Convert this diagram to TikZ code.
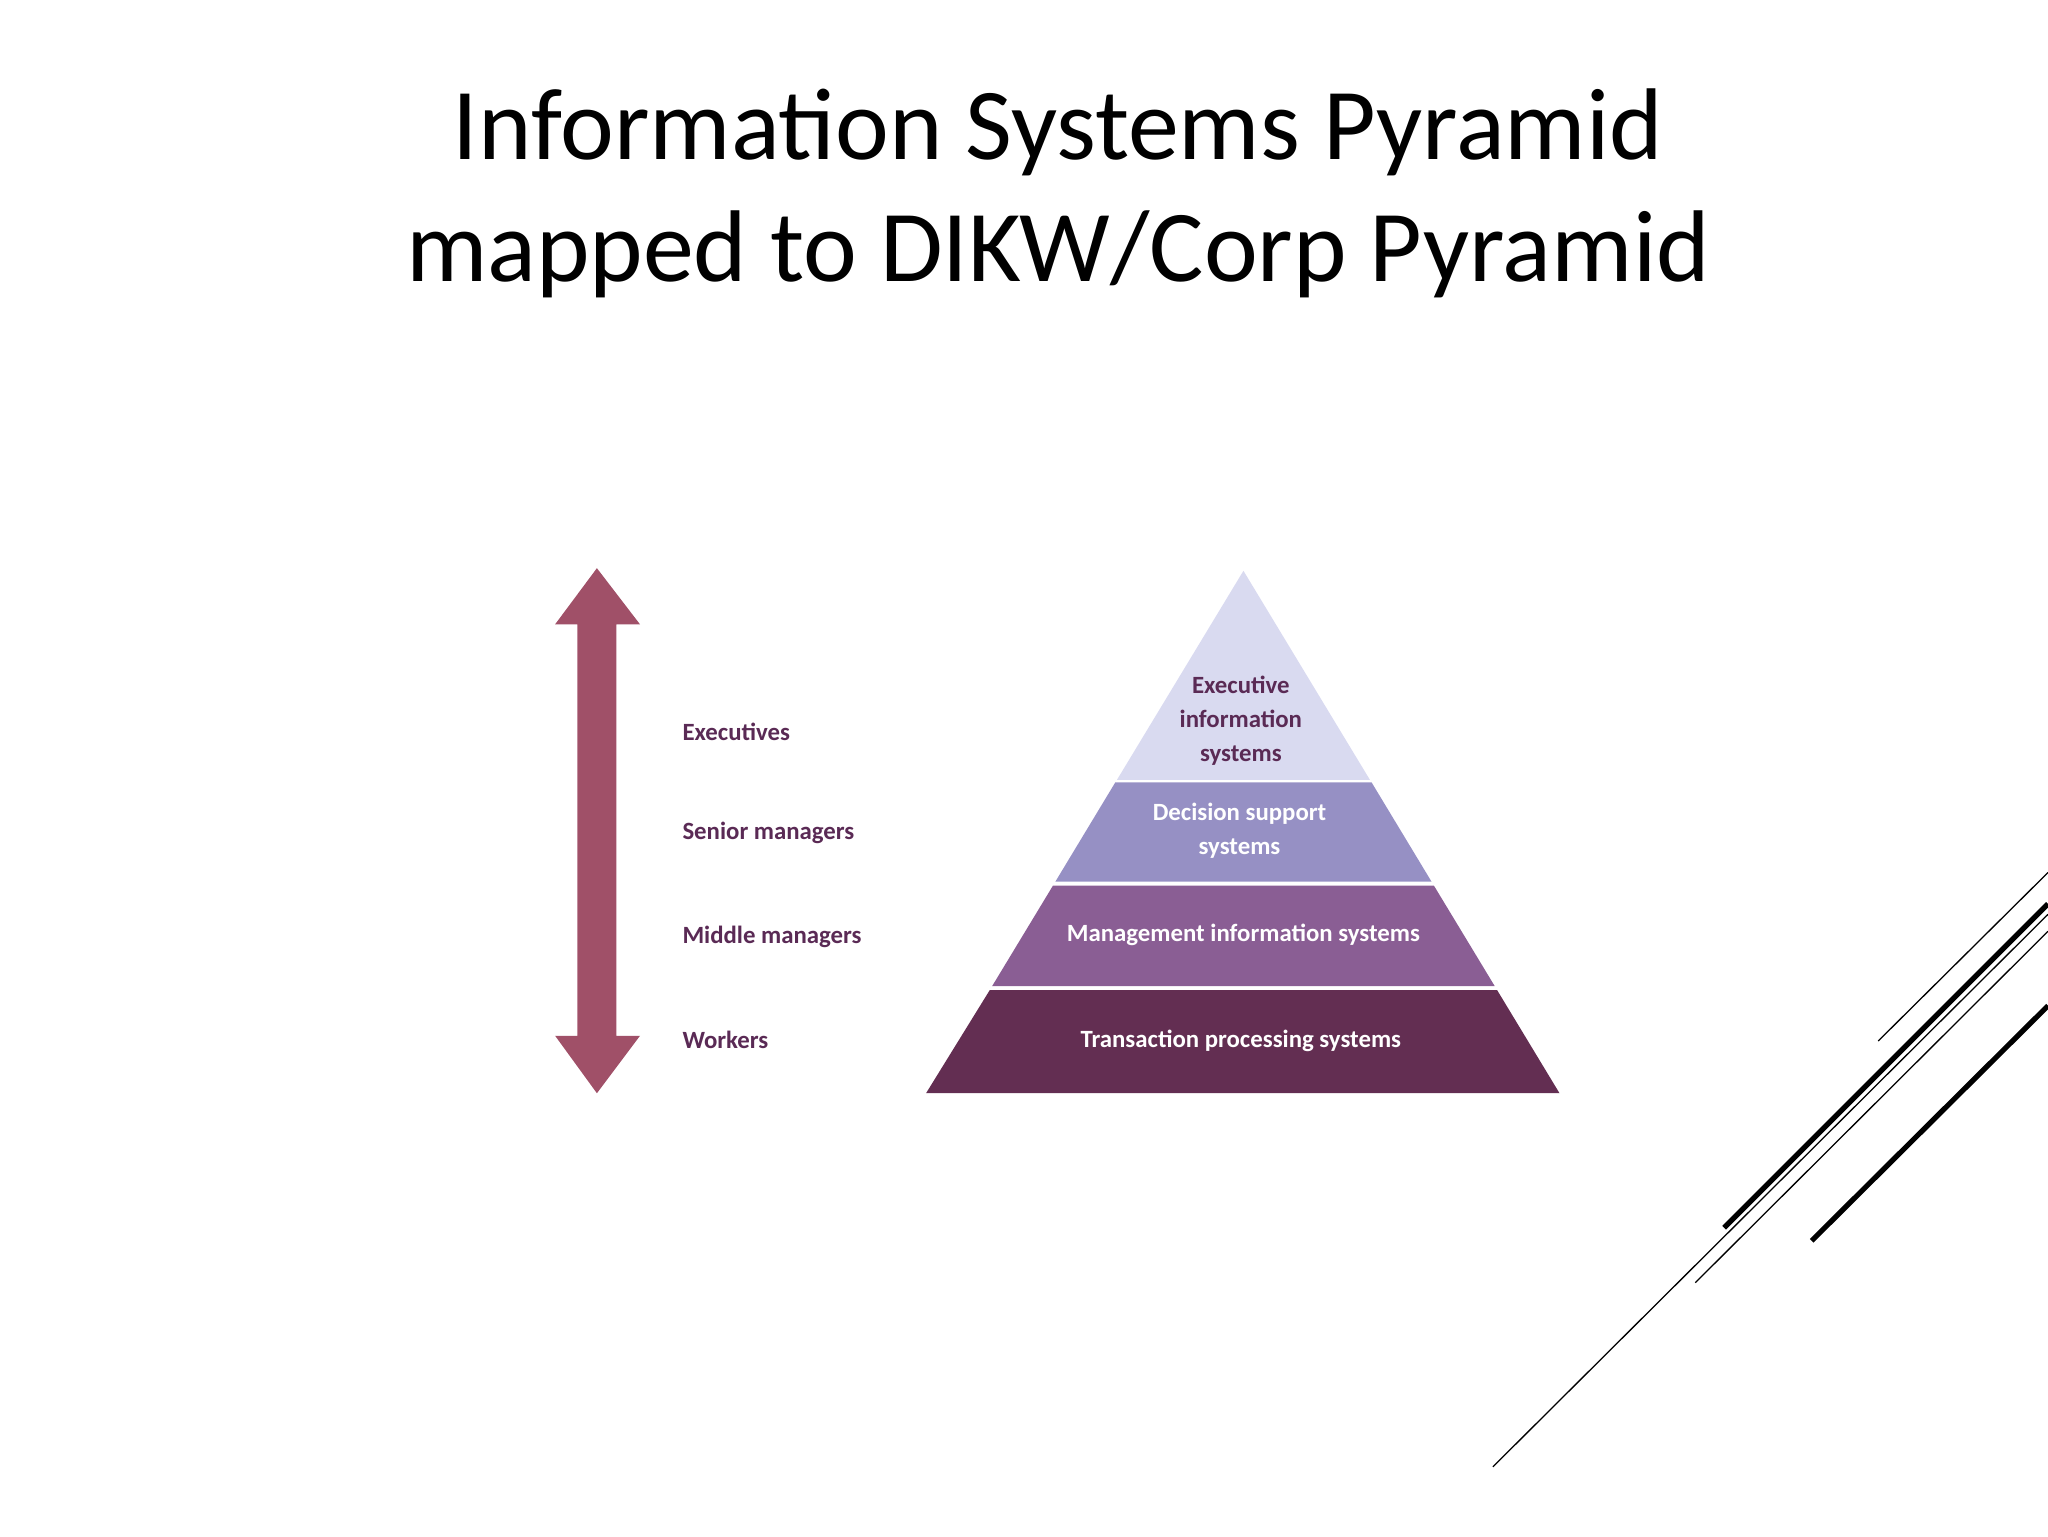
\documentclass[tikz,border=0pt]{standalone}
\usepackage{fontspec}
\setmainfont{Carlito}
\begin{document}
\begin{tikzpicture}[x=1pt,y=-1pt,
  lbl/.style={font=\fontsize{19}{22}\selectfont\bfseries,text=labc,anchor=west},
  tier/.style={font=\fontsize{19}{26}\selectfont\bfseries,text=white,align=center}]
\definecolor{labc}{HTML}{5A2A55}
\definecolor{arr}{HTML}{A05068}
\definecolor{t1}{HTML}{D9DAF0}
\definecolor{t2}{HTML}{9690C4}
\definecolor{t3}{HTML}{8A5E94}
\definecolor{t4}{HTML}{632E52}
\useasboundingbox (0,0) rectangle (1568,1176);
\node[font=\fontsize{78}{94}\selectfont,align=center] (title) at (810,148) {Information Systems Pyramid\\mapped to DIKW/Corp Pyramid};
% arrow
\fill[arr] (457,435) -- (490,478) -- (472,478) -- (472,793) -- (490,793) -- (457,837) -- (425,793) -- (442,793) -- (442,478) -- (425,478) -- cycle;
\node[lbl] (l1) at (519,560) {Executives};
\node[lbl] (l2) at (519,638) {Senior managers};
\node[lbl] (l3) at (519,717) {Middle managers};
\node[lbl] (l4) at (519,796) {Workers};
% pyramid
\fill[t1] (952,437) -- (1048.8,597) -- (855.2,597) -- cycle;
\fill[t2] (853.9,599) -- (1050.1,599) -- (1096,675) -- (808,675) -- cycle;
\fill[t3] (806.2,678) -- (1097.8,678) -- (1144.4,755) -- (759.6,755) -- cycle;
\fill[t4] (757.8,758) -- (1146.2,758) -- (1194,837) -- (709,837) -- cycle;
\node[tier,text=labc] (p1) at (950,552) {Executive\\information\\systems};
\node[tier] (p2) at (949,636) {Decision support\\systems};
\node[tier] (p3) at (952,716) {Management information systems};
\node[tier] (p4) at (950,797) {Transaction processing systems};
% decorative lines
\draw[line width=1pt] (1143,1123) -- (1568,700);
\draw[line width=1pt] (1298,982) -- (1568,713);
\draw[line width=1pt] (1438,797) -- (1568,668);
\draw[line width=4pt] (1320,940) -- (1568,692);
\draw[line width=4pt] (1387,950) -- (1568,770);
\end{tikzpicture}
\end{document}
